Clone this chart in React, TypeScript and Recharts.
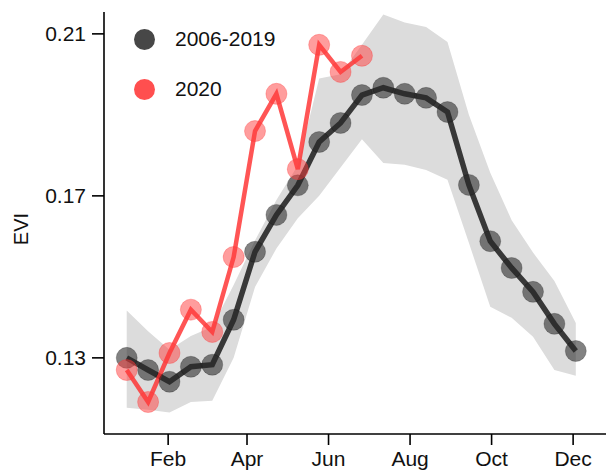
import { ComposedChart, Area, Line, XAxis, YAxis, Legend } from 'recharts';

// 16-day composites, day of year
const doy = [1, 17, 33, 49, 65, 81, 97, 113, 129, 145, 161, 177, 193, 209, 225, 241, 257, 273, 289, 305, 321, 337];

const evi2006_2019 = [
  0.130, 0.127, 0.1241, 0.1278, 0.1283, 0.1394, 0.1562, 0.1653, 0.1726, 0.1833, 0.188,
  0.1949, 0.1967, 0.1952, 0.1942, 0.1907, 0.1727, 0.1588, 0.1522, 0.1463, 0.1384, 0.1317,
];
const bandLow = [
  0.1177, 0.1172, 0.1165, 0.1191, 0.1194, 0.130, 0.1475, 0.157, 0.1645, 0.170, 0.177,
  0.184, 0.1781, 0.1777, 0.1764, 0.174, 0.1584, 0.1426, 0.1399, 0.1352, 0.127, 0.1256,
];
const bandHigh = [
  0.1417, 0.1366, 0.132, 0.1354, 0.1377, 0.148, 0.159, 0.169, 0.1775, 0.199, 0.2,
  0.2073, 0.2148, 0.2128, 0.2117, 0.208, 0.19, 0.1757, 0.164, 0.156, 0.149, 0.1386,
];
const evi2020 = [0.127, 0.1191, 0.1312, 0.1419, 0.1364, 0.1549, 0.186, 0.1952, 0.1766, 0.2073, 0.2006, 0.2046];

const monthTicks = [32, 91, 152, 213, 274, 335];
const monthLabels = ['Feb', 'Apr', 'Jun', 'Aug', 'Oct', 'Dec'];
const eviTicks = [0.13, 0.17, 0.21];

const data = doy.map((d, i) => ({
  doy: d,
  mean: evi2006_2019[i],
  y2020: evi2020[i],
  band: [bandLow[i], bandHigh[i]],
}));

const FONT = '"Liberation Sans", Arial, sans-serif';

const renderLegend = (props: any) => {
  const items = (props.payload || []).filter((p: any) => p.type !== 'none');
  return (
    <div style={{ fontFamily: FONT, fontSize: 21, color: '#111' }}>
      {items.map((p: any) => (
        <div key={p.value} style={{ display: 'flex', alignItems: 'center', height: 22, marginBottom: 28 }}>
          <div
            style={{
              width: 21,
              height: 21,
              borderRadius: '50%',
              background: p.value === '2020' ? '#ff4f4f' : '#474747',
            }}
          />
          <span style={{ marginLeft: 20, lineHeight: '22px' }}>{p.value}</span>
        </div>
      ))}
    </div>
  );
};

const renderEviLabel = () => (
  <text
    x={21}
    y={229}
    transform="rotate(-90, 21, 229)"
    textAnchor="middle"
    dominantBaseline="central"
    fontSize={20}
    fontFamily={FONT}
    fill="#111"
  >
    EVI
  </text>
);

export default function App() {
  return (
    <div style={{ position: 'absolute', left: 0, top: 0, fontFamily: FONT }}>
      <ComposedChart width={606} height={471} data={data} margin={{ top: 12, right: 0, bottom: 0, left: 0 }}>
        <XAxis
          type="number"
          dataKey="doy"
          domain={[-16, 359.6]}
          allowDataOverflow
          ticks={monthTicks}
          tickFormatter={(v: number) => monthLabels[monthTicks.indexOf(v)] ?? ''}
          height={37}
          tickSize={11}
          tickMargin={6}
          axisLine={{ stroke: '#000', strokeWidth: 1.6 }}
          tickLine={{ stroke: '#000', strokeWidth: 1.6 }}
          tick={{ fill: '#111', fontSize: 21, fontFamily: FONT }}
        />
        <YAxis
          type="number"
          domain={[0.1112, 0.2154]}
          allowDataOverflow
          ticks={eviTicks}
          tickFormatter={(v: number) => v.toFixed(2)}
          width={104}
          tickSize={12}
          tickMargin={6}
          axisLine={{ stroke: '#000', strokeWidth: 1.6 }}
          tickLine={{ stroke: '#000', strokeWidth: 1.6 }}
          tick={{ fill: '#111', fontSize: 21, fontFamily: FONT }}
          label={renderEviLabel}
        />
        <Legend
          layout="vertical"
          align="center"
          verticalAlign="middle"
          content={renderLegend}
          wrapperStyle={{ left: 134, top: 28, width: 200 }}
        />
        <Area
          dataKey="band"
          type="linear"
          stroke="none"
          fill="#dcdcdc"
          fillOpacity={1}
          legendType="none"
          isAnimationActive={false}
        />
        <Line
          dataKey="mean"
          name="2006-2019"
          type="linear"
          stroke="#141414"
          strokeOpacity={0.82}
          strokeWidth={5.5}
          dot={{ r: 10.5, fill: 'rgba(40,40,40,0.58)', stroke: 'rgba(0,0,0,0.25)', strokeWidth: 1 }}
          activeDot={false}
          isAnimationActive={false}
        />
        <Line
          dataKey="y2020"
          name="2020"
          type="linear"
          stroke="#ff2a2a"
          strokeOpacity={0.8}
          strokeWidth={4.5}
          dot={{ r: 10.5, fill: 'rgba(255,60,60,0.5)', stroke: 'rgba(255,50,50,0.4)', strokeWidth: 1 }}
          activeDot={false}
          isAnimationActive={false}
        />
      </ComposedChart>
    </div>
  );
}
